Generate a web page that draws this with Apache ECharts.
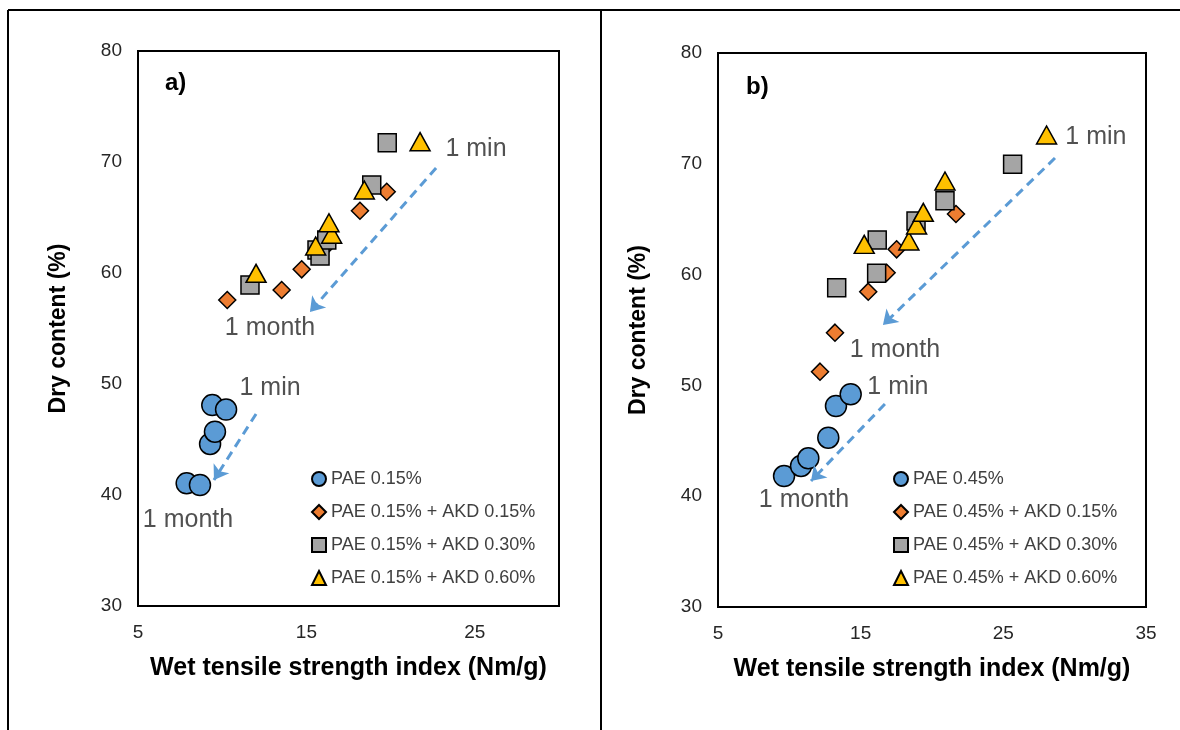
<!DOCTYPE html>
<html>
<head>
<meta charset="utf-8">
<script src="https://cdn.jsdelivr.net/npm/echarts@6/dist/echarts.min.js"></script>
<style>
  html, body { margin: 0; padding: 0; background: #fff; }
  #chart { width: 1180px; height: 730px; }
</style>
</head>
<body>
<div id="chart"></div>
<script>
// NOTE - data: [wet tensile index, dry content]
const aPae = [[7.89, 41.05], [8.68, 40.9], [9.28, 44.6], [9.57, 45.7], [9.41, 48.1], [10.23, 47.7]]
const aAkd15 = [[10.3, 57.57], [13.53, 58.47], [14.72, 60.33], [16.16, 62.4], [18.18, 65.61], [19.77, 67.32]]
const aAkd30 = [[11.65, 58.92], [15.63, 62.07], [15.81, 61.53], [16.21, 62.97], [18.88, 67.93], [19.8, 71.74]]
const aAkd60 = [[12.01, 59.97], [15.55, 62.43], [16.5, 63.49], [16.34, 64.53], [18.44, 67.48], [21.75, 71.83]]

const bPae = [[9.63, 41.82], [10.82, 42.73], [11.33, 43.42], [12.73, 45.28], [13.27, 48.14], [14.3, 49.2]]
const bAkd15 = [[12.15, 51.24], [13.2, 54.76], [15.53, 58.46], [16.82, 60.17], [17.52, 62.28], [21.68, 65.47]]
const bAkd30 = [[13.32, 58.82], [16.12, 60.12], [16.16, 63.12], [18.88, 64.84], [20.91, 66.67], [25.65, 69.95]]
const bAkd60 = [[15.25, 62.73], [18.38, 63.03], [18.92, 64.48], [19.39, 65.62], [20.91, 68.45], [28.03, 72.6]]

const namesA = ['PAE 0.15%', 'PAE 0.15% + AKD 0.15%', 'PAE 0.15% + AKD 0.30%', 'PAE 0.15% + AKD 0.60%']
const namesB = ['PAE 0.45%', 'PAE 0.45% + AKD 0.15%', 'PAE 0.45% + AKD 0.30%', 'PAE 0.45% + AKD 0.60%']

// arrows: [x1, y1, x2, y2] in data units
const arrowsA = [[22.7, 69.46, 15.21, 56.49], [12.01, 47.3, 9.51, 41.35]]
const arrowsB = [[28.62, 70.52, 16.56, 55.45], [16.7, 48.32, 11.52, 41.37]]

// notes: [x, y, text]
const notesA = [[25.07, 71.17, '1 min'], [12.84, 55.05, '1 month'], [12.84, 49.64, '1 min'], [7.97, 37.75, '1 month']]
const notesB = [[31.49, 72.42, '1 min'], [17.4, 53.19, '1 month'], [17.61, 49.86, '1 min'], [11.03, 39.66, '1 month']]

const FONT = 'Liberation Sans, Arial, sans-serif'
const markers = [
    { symbol: 'circle', size: 21, color: '#5B9BD5' },
    { symbol: 'diamond', size: 17, color: '#ED7D31' },
    { symbol: 'rect', size: 18, color: '#A5A5A5' },
    { symbol: 'triangle', size: [20, 18], color: '#FFC000' },
]

const makeSeries = (names, sets, idx) => sets.map((data, i) => ({
    name: names[i],
    type: 'scatter',
    xAxisIndex: idx,
    yAxisIndex: idx,
    data,
    symbol: markers[i].symbol,
    symbolSize: markers[i].size,
    itemStyle: { color: markers[i].color, borderColor: '#000', borderWidth: 1.5, opacity: 1 },
}))

const makeNotes = (notes, arrows, idx) => ({
    name: 'notes' + idx,
    type: 'scatter',
    xAxisIndex: idx,
    yAxisIndex: idx,
    silent: true,
    symbolSize: 0,
    data: notes,
    label: {
        show: true,
        position: 'inside',
        formatter: p => p.value[2],
        fontFamily: FONT,
        fontSize: 25,
        color: '#262626',
    },
    markLine: {
        silent: true,
        symbol: ['none', 'arrow'],
        symbolSize: 14,
        label: { show: false },
        lineStyle: { type: [9, 6], width: 3, color: '#5B9BD5' },
        data: arrows.map(a => [{ coord: [a[0], a[1]] }, { coord: [a[2], a[3]] }]),
    },
})

const xAxis = (max, idx) => ({
    type: 'value',
    gridIndex: idx,
    min: 5,
    max,
    interval: 10,
    name: 'Wet tensile strength index (Nm/g)',
    nameLocation: 'middle',
    nameGap: 50,
    nameTextStyle: { fontFamily: FONT, fontWeight: 'bold', fontSize: 25, color: '#000' },
    axisLine: { show: false },
    axisTick: { show: false },
    splitLine: { show: false },
    axisLabel: { showMaxLabel: max === 35, fontFamily: FONT, fontSize: 19, color: '#262626', margin: 17 },
})

const yAxis = idx => ({
    type: 'value',
    gridIndex: idx,
    min: 30,
    max: 80,
    interval: 10,
    name: 'Dry content (%)',
    nameLocation: 'middle',
    nameGap: 68,
    nameTextStyle: { fontFamily: FONT, fontWeight: 'bold', fontSize: 23, color: '#000' },
    axisLine: { show: false },
    axisTick: { show: false },
    splitLine: { show: false },
    axisLabel: { fontFamily: FONT, fontSize: 19, color: '#262626', margin: 16 },
})

const legend = (names, left) => ({
    data: names,
    orient: 'vertical',
    left,
    top: 465,
    itemWidth: 14,
    itemHeight: 14,
    itemGap: 15,
    textStyle: { fontFamily: FONT, fontSize: 18, color: '#404040' },
})

const myChart = echarts.init(document.querySelector('#chart'))
const option = {
    animation: false,
    backgroundColor: '#fff',
    title: [
        { text: 'a)', left: 160, top: 66, textStyle: { fontFamily: FONT, fontWeight: 'bold', fontSize: 24, color: '#000' } },
        { text: 'b)', left: 741, top: 70, textStyle: { fontFamily: FONT, fontWeight: 'bold', fontSize: 24, color: '#000' } },
    ],
    grid: [
        { left: 138, top: 51, width: 421, height: 555, show: true, borderColor: '#000', borderWidth: 2, backgroundColor: 'transparent' },
        { left: 718, top: 53, width: 428, height: 554, show: true, borderColor: '#000', borderWidth: 2, backgroundColor: 'transparent' },
    ],
    xAxis: [xAxis(30, 0), xAxis(35, 1)],
    yAxis: [yAxis(0), yAxis(1)],
    legend: [legend(namesA, 306), legend(namesB, 888)],
    series: [
        ...makeSeries(namesA, [aPae, aAkd15, aAkd30, aAkd60], 0),
        ...makeSeries(namesB, [bPae, bAkd15, bAkd30, bAkd60], 1),
        makeNotes(notesA, arrowsA, 0),
        makeNotes(notesB, arrowsB, 1),
    ],
    graphic: [
        { type: 'line', shape: { x1: 8, y1: 10, x2: 1180, y2: 10 }, style: { stroke: '#000', lineWidth: 2 } },
        { type: 'line', shape: { x1: 8, y1: 10, x2: 8, y2: 730 }, style: { stroke: '#000', lineWidth: 2 } },
        { type: 'line', shape: { x1: 601, y1: 10, x2: 601, y2: 730 }, style: { stroke: '#000', lineWidth: 2 } },
    ],
}
myChart.setOption(option)
</script>
</body>
</html>
